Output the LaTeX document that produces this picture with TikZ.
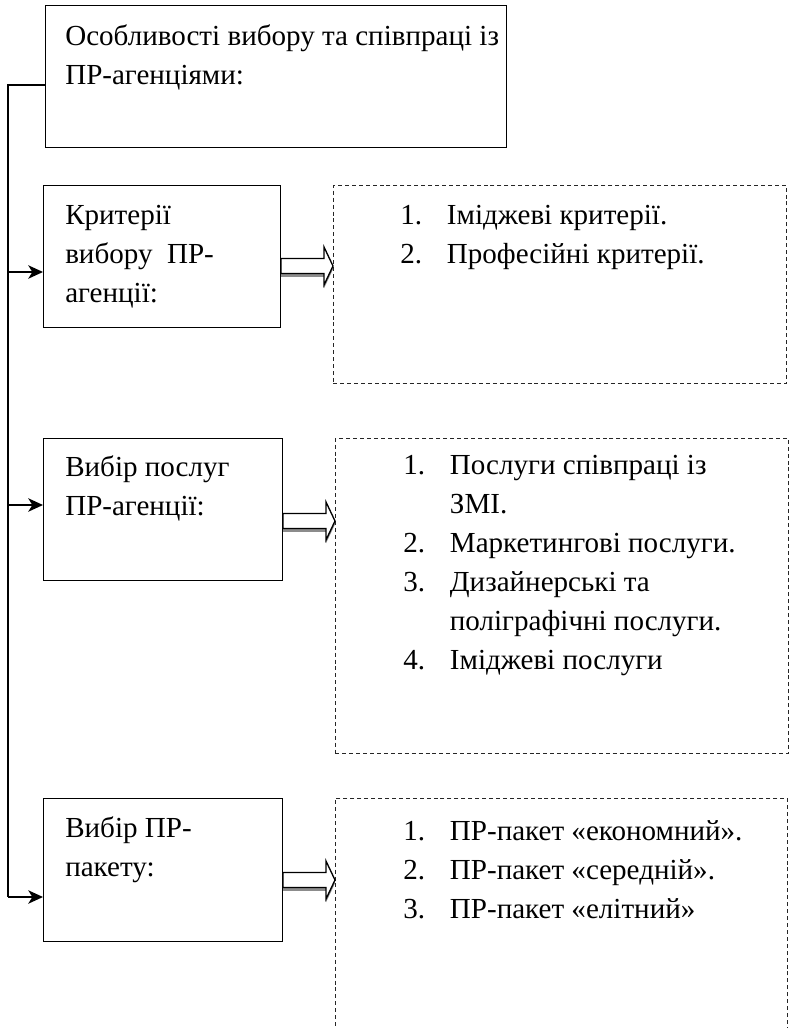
\documentclass[tikz,border=0pt]{standalone}
\usepackage{fontspec}
\setmainfont{Liberation Serif}
\usetikzlibrary{arrows.meta,calc,shadows}

% number of a list line, fixed width
\newcommand\listnum[1]{\makebox[35pt][l]{#1.}}
% hollow block arrow with a grey shadow
\newcommand\hollowarrow[2]{%
  \draw[hollow] ($(#1)+(0,-7.5)$) -- ($(#2)+(-9,-7.5)$) -- ($(#2)+(-9,-19)$)
    -- (#2) -- ($(#2)+(-9,19)$) -- ($(#2)+(-9,7.5)$) -- ($(#1)+(0,7.5)$) -- cycle;}

\begin{document}
\begin{tikzpicture}[x=0.75pt, y=-0.75pt, line join=miter,
    box/.style={draw=black, line width=0.8pt, inner sep=0pt, anchor=north west},
    listbox/.style={draw=black!85, dash pattern=on 3pt off 2.2pt, line width=0.6pt, inner sep=0pt, anchor=north west},
    txt/.style={inner sep=0pt, anchor=north west, align=left,
      font=\fontsize{21.8pt}{29.3pt}\selectfont, execute at begin node=\strut},
    trunk/.style={line width=0.9pt},
    feed/.style={line width=1.3pt, -{Stealth[length=11pt, width=10pt, inset=3pt]}},
    hollow/.style={draw=black, line width=1pt, fill=white,
      drop shadow={shadow xshift=0pt, shadow yshift=-2.5pt, fill=black!45, opacity=1}}]
  \useasboundingbox (0,0) rectangle (791,1028);
  % left column
  \node[box, minimum width=346pt, minimum height=106.5pt] (head) at (45,5) {};
  \node[txt] (headtxt) at (65,24) {Особливості вибору та співпраці із\\ПР-агенціями:};
  \node[box, minimum width=177.75pt, minimum height=106.5pt] (crit) at (43,185) {};
  \node[txt] (crittxt) at (65,205) {Критерії\\вибору\ \ ПР-\\агенції:};
  \node[box, minimum width=179.25pt, minimum height=106.5pt] (serv) at (43,438) {};
  \node[txt] (servtxt) at (65,455) {Вибір послуг\\ПР-агенції:};
  \node[box, minimum width=179.25pt, minimum height=107.25pt] (pack) at (43,798) {};
  \node[txt] (packtxt) at (65,816) {Вибір ПР-\\пакету:};
  % right column
  \node[listbox, minimum width=339.75pt, minimum height=148.5pt] (critlist) at (333,185) {};
  \node[txt] (critlisttxt) at (400,205) {\listnum{1}Іміджеві критерії.\\\listnum{2}Професійні критерії.};
  \node[listbox, minimum width=339.75pt, minimum height=236.25pt] (servlist) at (335,438) {};
  \node[txt] (servlisttxt) at (403,455) {\listnum{1}Послуги співпраці із\\\hspace*{35pt}ЗМІ.\\
    \listnum{2}Маркетингові послуги.\\\listnum{3}Дизайнерські та\\\hspace*{35pt}поліграфічні послуги.\\
    \listnum{4}Іміджеві послуги};
  \node[listbox, minimum width=339pt, minimum height=189pt] (packlist) at (335,798) {};
  \node[txt] (packlisttxt) at (403,820) {\listnum{1}ПР-пакет «економний».\\\listnum{2}ПР-пакет «середній».\\
    \listnum{3}ПР-пакет «елітний»};
  % spine and arrows
  \coordinate (j1) at (8,272);
  \coordinate (j2) at (8,505);
  \coordinate (j3) at (8,897);
  \draw[trunk] (head.west |- 0,85) -| (j3);
  \draw[feed] (j1) -- (crit.west |- j1);
  \draw[feed] (j2) -- (serv.west |- j2);
  \draw[feed] (j3) -- (pack.west |- j3);
  \coordinate (a1) at (crit.east |- 0,266);
  \coordinate (b1) at (critlist.west |- 0,266);
  \coordinate (a2) at (serv.east |- 0,521);
  \coordinate (b2) at (servlist.west |- 0,521);
  \coordinate (a3) at (pack.east |- 0,880);
  \coordinate (b3) at (packlist.west |- 0,880);
  \hollowarrow{a1}{b1}
  \hollowarrow{a2}{b2}
  \hollowarrow{a3}{b3}
\end{tikzpicture}
\end{document}
